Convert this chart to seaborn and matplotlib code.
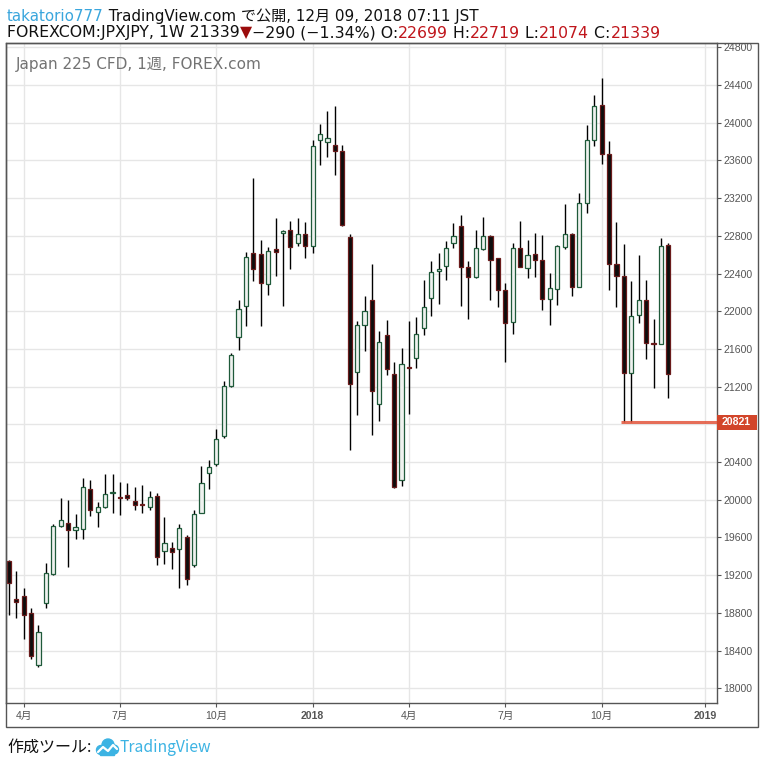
import numpy as np
import pandas as pd
import matplotlib
matplotlib.use("Agg")
import matplotlib.pyplot as plt
import matplotlib.patches as mpatches
from matplotlib.transforms import Bbox
import seaborn as sns

# FOREXCOM:JPXJPY weekly bars
opens = [19347, 18947, 18979, 18800, 18242, 18905, 19210, 19726, 19758, 19674,
         19684, 20116, 19874, 19923, 20070, 20025, 20053, 19989, 19950, 19926,
         20042, 19453, 19484, 19474, 19600, 19305, 19863, 20284, 20375, 20672,
         21210, 21726, 22052, 22618, 22607, 22289, 22660, 22830, 22862, 22724,
         22819, 22692, 23819, 23798, 23766, 23703, 22790, 21360, 21857, 22123,
         21011, 21748, 21337, 20210, 21404, 21506, 21822, 22144, 22430, 22485,
         22727, 22906, 22474, 22359, 22664, 22801, 22560, 22230, 21890, 22673,
         22461, 22610, 22546, 22133, 22239, 22684, 22821, 22260, 23149, 23816,
         24186, 23668, 22504, 22377, 21340, 21964, 22123, 21665, 21657, 22699]
highs = [19361, 19246, 19067, 18856, 18667, 19330, 19740, 20021, 19993, 19846,
         20235, 20214, 19972, 20277, 20277, 20193, 20179, 20130, 20161, 20088,
         20067, 19814, 19551, 19740, 19625, 19888, 20361, 20425, 20754, 21256,
         21560, 22123, 22632, 23417, 22756, 22685, 22993, 22862, 22961, 22993,
         22950, 23812, 23989, 24124, 24173, 23766, 22822, 21892, 22158, 22496,
         21793, 21909, 21457, 21614, 21899, 21941, 22331, 22531, 22615, 22748,
         22931, 23025, 22531, 22857, 23004, 22810, 22567, 22300, 22729, 22962,
         22751, 22835, 22814, 22401, 22700, 23142, 22832, 23255, 23978, 24292,
         24475, 23805, 22948, 22715, 22324, 22592, 22334, 21922, 22779, 22719]
lows = [18775, 18740, 18519, 18312, 18230, 18852, 19200, 19712, 19291, 19586,
        19579, 19828, 19712, 19909, 19860, 19839, 20000, 19891, 19860, 19891,
        19302, 19323, 19260, 19060, 19091, 19291, 19855, 20112, 20354, 20651,
        21192, 21585, 21840, 22317, 21840, 22168, 22370, 22052, 22444, 22692,
        22561, 22614, 23550, 23632, 23441, 22900, 20523, 20902, 21580, 20682,
        20839, 21327, 20126, 20147, 20912, 21393, 21744, 21944, 22081, 22334,
        22671, 22060, 21916, 22355, 22653, 22116, 22050, 21465, 21760, 22465,
        22352, 22363, 22017, 21855, 22070, 22662, 22165, 22255, 23040, 23752,
        23562, 22225, 22049, 20821, 20825, 21879, 21495, 21188, 21647, 21074]
closes = [19116, 18912, 18779, 18337, 18600, 19221, 19716, 19789, 19674, 19712,
          20137, 19895, 19926, 20063, 20078, 20018, 20021, 19947, 19944, 20032,
          19389, 19537, 19442, 19695, 19158, 19853, 20179, 20347, 20644, 21206,
          21535, 22023, 22575, 22448, 22299, 22639, 22628, 22851, 22681, 22819,
          22692, 23752, 23880, 23841, 23703, 22920, 21225, 21858, 22007, 21150,
          21674, 21390, 20137, 21442, 21396, 21758, 22043, 22411, 22448, 22674,
          22801, 22464, 22359, 22674, 22801, 22548, 22230, 21880, 22673, 22472,
          22599, 22546, 22133, 22250, 22694, 22821, 22260, 23149, 23816, 24176,
          23668, 22504, 22377, 21340, 21954, 22123, 21668, 21657, 22694, 21339]
first_bar = "2017-03-20"

low_mark = 20821
low_bar = 83

month_starts = ["2017-04-01", "2017-07-01", "2017-10-01", "2018-01-01",
                "2018-04-01", "2018-07-01", "2018-10-01", "2019-01-01"]
month_labels = ["4月", "7月", "10月", "2018", "4月", "7月", "10月", "2019"]
price_ticks = list(range(18000, 24801, 400))

header1 = [("takatorio777", "#3aa6dd"),
           (" TradingView.com で公開, 12月 09, 2018 07:11 JST", "#111111")]
header2 = [("FOREXCOM:JPXJPY, 1W 21339", "#111111"), ("▼", "#9b0c0c"),
           ("−290 (−1.34%) O:", "#111111"), ("22699", "#c0161c"),
           (" H:", "#111111"), ("22719", "#c0161c"), (" L:", "#111111"),
           ("21074", "#c0161c"), (" C:", "#111111"), ("21339", "#c0161c")]
watermark = "Japan 225 CFD, 1週, FOREX.com"

df = pd.DataFrame({"Open": opens, "High": highs, "Low": lows, "Close": closes})
df["Date"] = pd.date_range(first_bar, periods=len(df), freq="W-MON")
df["x"] = np.arange(len(df))
df["up"] = df["Close"] >= df["Open"]

# bar index of the first weekly bar in each labelled month (future bars extrapolated)
all_weeks = pd.date_range(first_bar, periods=len(df) + 20, freq="W-MON")
tick_pos = [int(np.argmax(all_weeks >= pd.Timestamp(m))) for m in month_starts]

sns.set_style("white")
plt.rcParams['font.family'] = ['DejaVu Sans', 'Noto Sans CJK JP']

W, H = 765, 764
fig = plt.figure(figsize=(W / 100, H / 100), dpi=100)
ax = fig.add_axes([6.3 / W, 1 - 703 / H, (716.5 - 6.3) / W, (703 - 43) / H])

# wicks then bodies
ax.vlines(df["x"], df["Low"], df["High"], color="black", lw=1.0, zorder=2)
up = df[df["up"]]
dn = df[~df["up"]]
ax.bar(up["x"], (up["Close"] - up["Open"]).clip(lower=8), bottom=up["Open"], width=0.56,
       color="#eff2ef", edgecolor="#1f5a3a", linewidth=0.9, zorder=3)
ax.bar(dn["x"], (dn["Open"] - dn["Close"]).clip(lower=8), bottom=dn["Close"], width=0.56,
       color="#0d0d0d", edgecolor="#6a1b1b", linewidth=0.9, zorder=3)

ax.set_xlim(-0.34, 95.5)
ax.set_ylim(17843, 24846)

# lowest-low marker line
ax.hlines(low_mark, low_bar - 0.35, 95.5, color="#e2553c", lw=2.2, alpha=0.85, zorder=4)

ax.yaxis.tick_right()
ax.set_yticks(price_ticks)
# the marker label covers the nearest scale label
ax.set_yticklabels(["" if abs(p - low_mark) < 150 else str(p) for p in price_ticks])
ax.set_xticks(tick_pos)
ax.set_xticklabels(month_labels)
ax.grid(True, color="#e6e6e6", lw=1.0)
ax.set_axisbelow(True)
ax.tick_params(axis="y", which="major", right=True, left=False, direction="out", length=3,
               width=0.8, color="#555555", labelcolor="#555555", labelsize=7.6, pad=2)
ax.tick_params(axis="x", which="major", bottom=True, direction="out", length=3, width=0.8,
               color="#555555", labelcolor="#555555", labelsize=7.6, pad=3)
for lab in ax.get_yticklabels():
    lab.set_family(["Liberation Sans", "Noto Sans CJK JP"])
for lab in ax.get_xticklabels():
    lab.set_family(["Liberation Sans", "Noto Sans CJK JP"])
    if lab.get_text().isdigit():
        lab.set_fontweight("bold")
for sp in ax.spines.values():
    sp.set_color("#555555")
    sp.set_linewidth(1.0)

# price label box for the marker
ytr = ax.get_yaxis_transform()
box_h = 7.3 * (24846 - 17843) / 660
ax.add_patch(mpatches.Rectangle((1.0, low_mark - box_h), 40 / 710.2, 2 * box_h, transform=ytr,
                                facecolor="#d2452a", edgecolor="none", clip_on=False, zorder=5))
ax.text(1.0 + 20 / 710.2, low_mark, str(low_mark), transform=ytr, ha="center", va="center",
        color="white", fontsize=7.6, fontweight="bold", family=["Liberation Sans"], zorder=6,
        clip_on=False)

# watermark
ax.text((16 - 6.3) / 710.2, (703 - 64) / 660, watermark, transform=ax.transAxes, ha="left",
        va="center", color="#737373", fontsize=11, family=["DejaVu Sans", "Noto Sans CJK JP"])

# outer frame including the scales
fig.patches.append(mpatches.Rectangle((6.3 / W, 1 - 727 / H), (758 - 6.3) / W, (727 - 43) / H,
                                      transform=fig.transFigure, fill=False,
                                      edgecolor="#555555", lw=1.0))

fig.canvas.draw()
renderer = fig.canvas.get_renderer()

# clip the last time label at the price scale
last = ax.xaxis.get_major_ticks()[-1].label1
last.set_clip_box(Bbox.from_extents(0, 0, 716.5, H))
last.set_clip_on(True)


def text_run(pieces, x0, ybase, size):
    x = x0
    for txt, col in pieces:
        t = fig.text(x / W, 1 - ybase / H, txt, color=col, fontsize=size, ha="left", va="baseline")
        x += t.get_window_extent(renderer).width


text_run(header1, 7, 21, 10.9)
text_run(header2, 7, 37.5, 11.3)

# footer
fig.text(7 / W, 1 - 747 / H, "作成ツール:", color="#111111", fontsize=11.5, ha="left", va="center",
         family=["Noto Sans CJK JP"])
logo = "#3cb3e3"
for cx, cy, r in [(101, 750, 4.5), (108, 745, 6), (114, 749.5, 4.5)]:
    fig.patches.append(mpatches.Circle((cx / W, 1 - cy / H), r / W, transform=fig.transFigure,
                                       color=logo))
fig.patches.append(mpatches.Rectangle((100 / W, 1 - 754.5 / H), 14 / W, 6 / H,
                                      transform=fig.transFigure, color=logo))
fig.lines.append(plt.Line2D([98 / W, 103 / W, 108 / W, 113 / W, 117 / W],
                            [1 - 752 / H, 1 - 747 / H, 1 - 751 / H, 1 - 745 / H, 1 - 749 / H],
                            transform=fig.transFigure, color="white", lw=1.6))
fig.text(119 / W, 1 - 747 / H, "TradingView", color=logo, fontsize=11.3, ha="left", va="center",
         family=["Noto Sans CJK JP"])

fig.savefig("out.png", dpi=100)
